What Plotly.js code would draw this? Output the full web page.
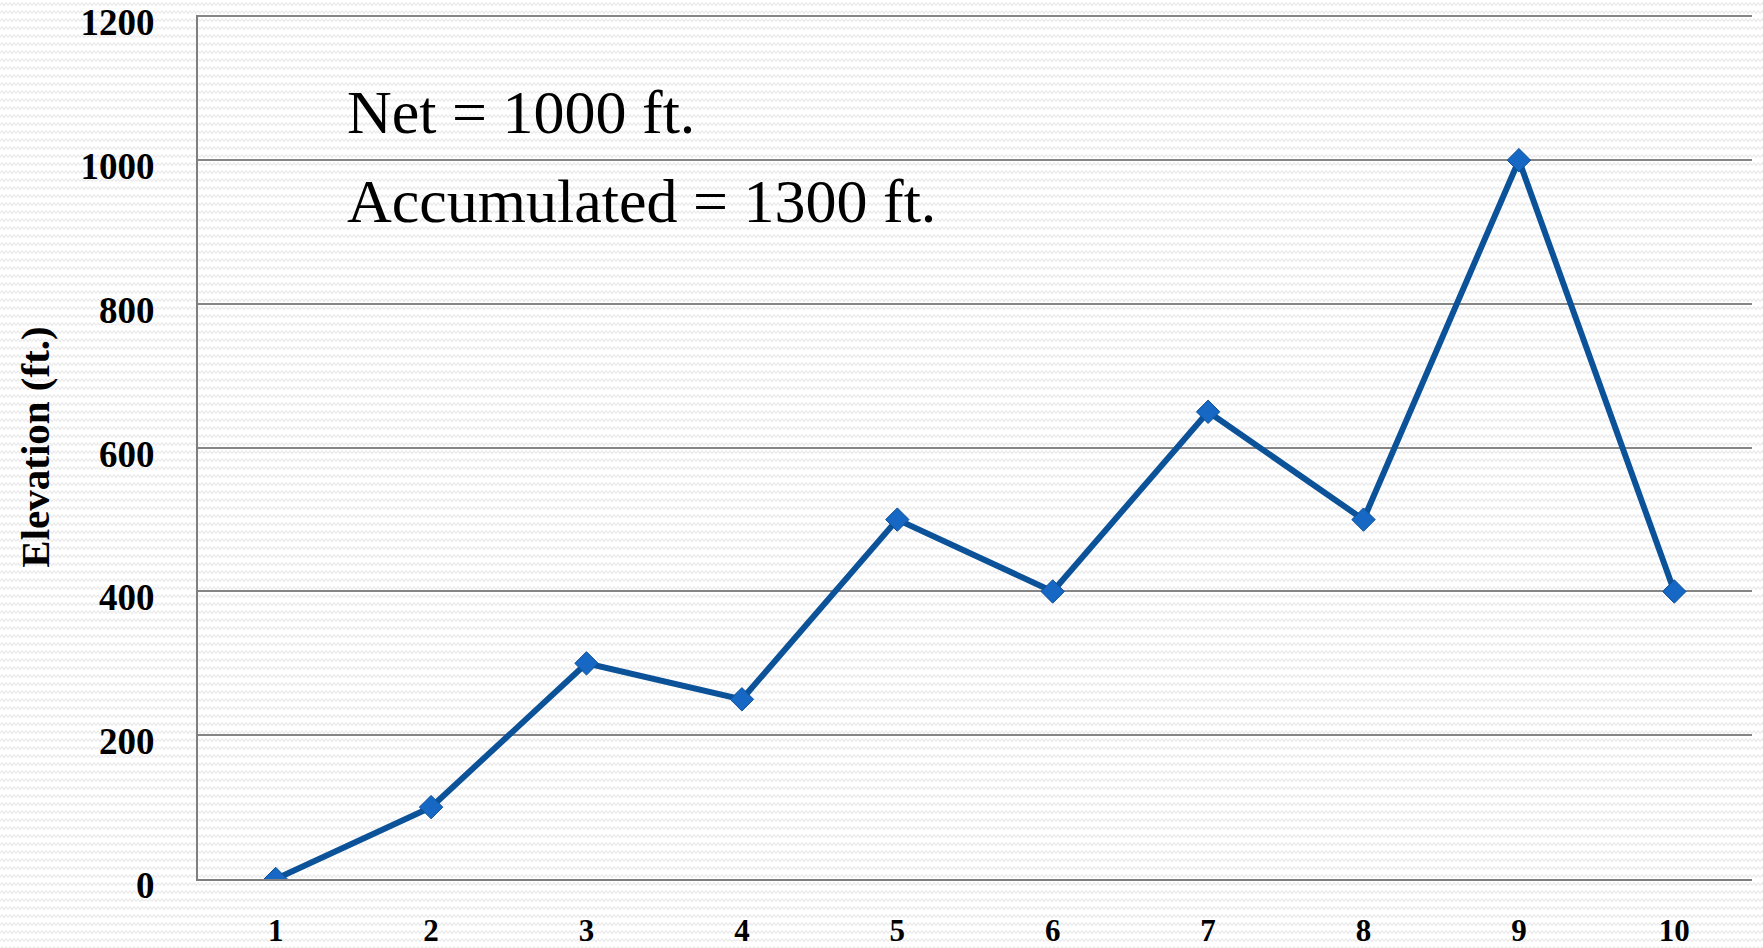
<!DOCTYPE html>
<html>
<head>
<meta charset="utf-8">
<script src="https://cdn.plot.ly/plotly-3.0.1.min.js"></script>
<style>
  html, body { margin: 0; padding: 0; }
  body {
    width: 1763px; height: 948px; overflow: hidden;
    background-color: #ffffff;
    background-image: url("data:image/svg+xml;utf8,<svg xmlns='http://www.w3.org/2000/svg' width='8' height='8'><path d='M0 5.5 L2 3 L4 5.5 L6 3 L8 5.5' fill='none' stroke='%23e9e9e9' stroke-width='1.2'/></svg>");
    background-size: 8px 8px;
  }
  #chart { width: 1763px; height: 948px; }
</style>
</head>
<body>
<div id="chart"></div>
<script>
// Data
const points = [1, 2, 3, 4, 5, 6, 7, 8, 9, 10];
const elevation = [0, 100, 300, 250, 500, 400, 650, 500, 1000, 400];
const yTicks = [0, 200, 400, 600, 800, 1000, 1200];
const yAxisTitle = "Elevation (ft.)";
const noteLines = ["Net = 1000 ft.", "Accumulated = 1300 ft."];

const serif = 'Liberation Serif, DejaVu Serif, serif';

const trace = {
  x: points,
  y: elevation,
  type: 'scatter',
  mode: 'lines+markers',
  line: { color: '#0b5299', width: 6 },
  marker: { symbol: 'diamond', size: 18, color: '#1668c4', line: { color: '#0d4f96', width: 1 } },
  hoverinfo: 'x+y'
};

const layout = {
  width: 1763,
  height: 948,
  paper_bgcolor: 'rgba(0,0,0,0)',
  plot_bgcolor: 'rgba(0,0,0,0)',
  margin: { l: 198, r: 11, t: 15, b: 69, pad: 0 },
  showlegend: false,
  xaxis: {
    type: 'linear',
    range: [0.5, 10.5],
    tickvals: points,
    ticktext: points.map(String),
    showgrid: false,
    zeroline: false,
    showline: true,
    linecolor: '#7f7f7f',
    linewidth: 2,
    ticks: '',
    ticklabelstandoff: 23,
    ticklabeloverflow: 'allow',
    tickfont: { family: serif, size: 31, color: '#000000', weight: 'bold' }
  },
  yaxis: {
    range: [0, 1202],
    tickvals: yTicks,
    ticktext: yTicks.map(String),
    showgrid: true,
    gridcolor: '#858585',
    gridwidth: 2,
    zeroline: false,
    showline: true,
    linecolor: '#7f7f7f',
    linewidth: 2,
    ticks: '',
    ticklabelstandoff: 34,
    ticklabelshift: 6,
    ticklabeloverflow: 'allow',
    tickfont: { family: serif, size: 37, color: '#000000', weight: 'bold' },
    title: {
      text: '<b>' + yAxisTitle + '</b>',
      font: { family: serif, size: 41, color: '#000000' },
      standoff: 18
    }
  },
  annotations: [
    {
      xref: 'paper', yref: 'paper',
      x: (345 - 198) / 1554, y: (879 - 148) / 864,
      xanchor: 'left', yanchor: 'bottom',
      text: noteLines[0],
      showarrow: false,
      font: { family: serif, size: 62, color: '#000000' }
    },
    {
      xref: 'paper', yref: 'paper',
      x: (345 - 198) / 1554, y: (879 - 237) / 864,
      xanchor: 'left', yanchor: 'bottom',
      text: noteLines[1],
      showarrow: false,
      font: { family: serif, size: 62, color: '#000000' }
    }
  ]
};

Plotly.newPlot('chart', [trace], layout, { displayModeBar: false, staticPlot: true });
</script>
</body>
</html>
